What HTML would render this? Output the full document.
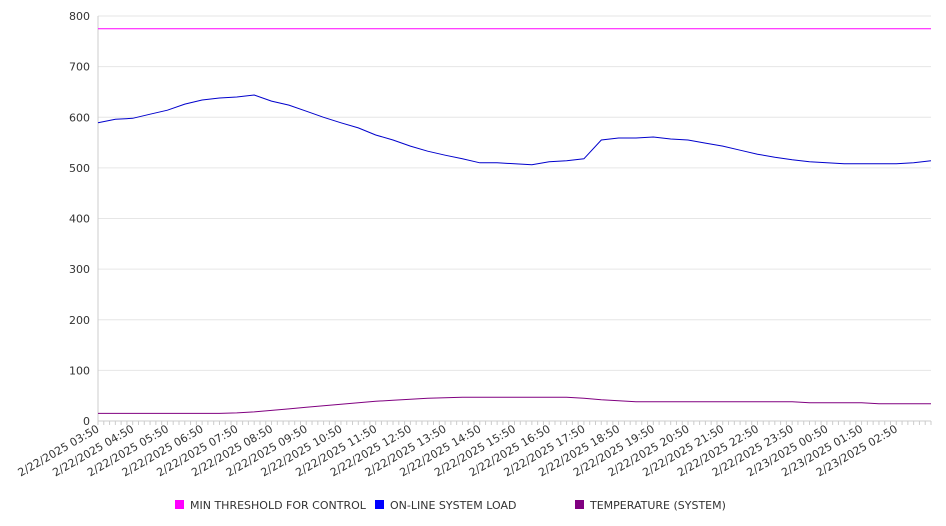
<!DOCTYPE html>
<html><head><meta charset="utf-8"><style>
body{margin:0;background:#fff;}
svg{display:block;font-family:"DejaVu Sans","Liberation Sans",sans-serif;}
</style></head><body>
<svg id="chart" width="946" height="526" viewBox="0 0 946 526">
<g id="grid"></g>
<g id="yaxis"></g>
<g id="xaxis"></g>
<g id="series"></g>
<g id="legend">
<g><rect x="175" y="500" width="9" height="9" fill="#ff00ff"/><text x="190" y="509" font-size="11" fill="#333">MIN THRESHOLD FOR CONTROL</text></g>
<g><rect x="375" y="500" width="9" height="9" fill="#0000ff"/><text x="390" y="509" font-size="11" fill="#333">ON-LINE SYSTEM LOAD</text></g>
<g><rect x="575" y="500" width="9" height="9" fill="#800080"/><text x="590" y="509" font-size="11" fill="#333">TEMPERATURE (SYSTEM)</text></g>
</g>
</svg>
<script>
const yTicks=[0,100,200,300,400,500,600,700,800];
const xLabels=["2/22/2025 03:50","2/22/2025 04:50","2/22/2025 05:50","2/22/2025 06:50","2/22/2025 07:50","2/22/2025 08:50","2/22/2025 09:50","2/22/2025 10:50","2/22/2025 11:50","2/22/2025 12:50","2/22/2025 13:50","2/22/2025 14:50","2/22/2025 15:50","2/22/2025 16:50","2/22/2025 17:50","2/22/2025 18:50","2/22/2025 19:50","2/22/2025 20:50","2/22/2025 21:50","2/22/2025 22:50","2/22/2025 23:50","2/23/2025 00:50","2/23/2025 01:50","2/23/2025 02:50"];
// half-hour samples from 03:50
const loadValues=[589,596,598,606,614,626,634,638,640,644,632,624,612,600,589,579,565,555,543,533,525,518,510,510,508,506,512,514,518,555,559,559,561,557,555,549,543,535,527,521,516,512,510,508,508,508,508,510,514];
const tempValues=[15,15,15,15,15,15,15,15,16,18,21,24,27,30,33,36,39,41,43,45,46,47,47,47,47,47,47,47,45,42,40,38,38,38,38,38,38,38,38,38,38,36,36,36,36,34,34,34,34];
const thresholdValues=[775,775];
const X0=98,X1=931,Y0=421,Y1=16,YMAX=800,HOURS=24;
const NS="http://www.w3.org/2000/svg";
function xs(h){return X0+(X1-X0)*h/HOURS;}
function ys(v){return Y0-(Y0-Y1)*v/YMAX;}
function mk(tag,attrs,parent){const e=document.createElementNS(NS,tag);for(const k in attrs)e.setAttribute(k,attrs[k]);parent.appendChild(e);return e;}
const grid=document.getElementById('grid'),ya=document.getElementById('yaxis'),xa=document.getElementById('xaxis'),ser=document.getElementById('series');
yTicks.forEach(v=>{
 if(v>0){const l=mk('line',{x1:X0,x2:X1,y1:ys(v),y2:ys(v),stroke:'#e6e6e6','stroke-width':1},grid);
 
 }
 const t=mk('text',{x:90,y:ys(v)+4,'text-anchor':'end','font-size':11,fill:'#333'},ya);
 t.textContent=v;
 
 
});
mk('line',{x1:X0,x2:X0,y1:Y1,y2:Y0,stroke:'#ccc'},ya);
mk('line',{x1:X0,x2:X1,y1:Y0,y2:Y0,stroke:'#ccc'},xa);
for(let i=0;i<=HOURS*6;i++){mk('line',{x1:xs(i/6),x2:xs(i/6),y1:Y0,y2:Y0+4,stroke:'#ccc'},xa);}
xLabels.forEach((s,i)=>{
 const x=xs(i)+2,y=Y0+10;
 const t=mk('text',{x:x,y:y,'text-anchor':'end','font-size':11,fill:'#333',transform:`rotate(-30 ${x} ${y})`},xa);
 t.textContent=s;
 
 
});
function line(vals,color,name){
 const step=HOURS/(vals.length-1);
 const d=vals.map((v,i)=>(i?'L':'M')+xs(i*step).toFixed(1)+' '+ys(v).toFixed(1)).join(' ');
 const p=mk('path',{d:d,fill:'none',stroke:color,'stroke-width':1},ser);
 
 
}
line(thresholdValues,'#ff00ff','min-threshold-line');
line(tempValues,'#800080','temperature-line');
line(loadValues,'#0000cc','online-system-load-line');
</script>
</body></html>
